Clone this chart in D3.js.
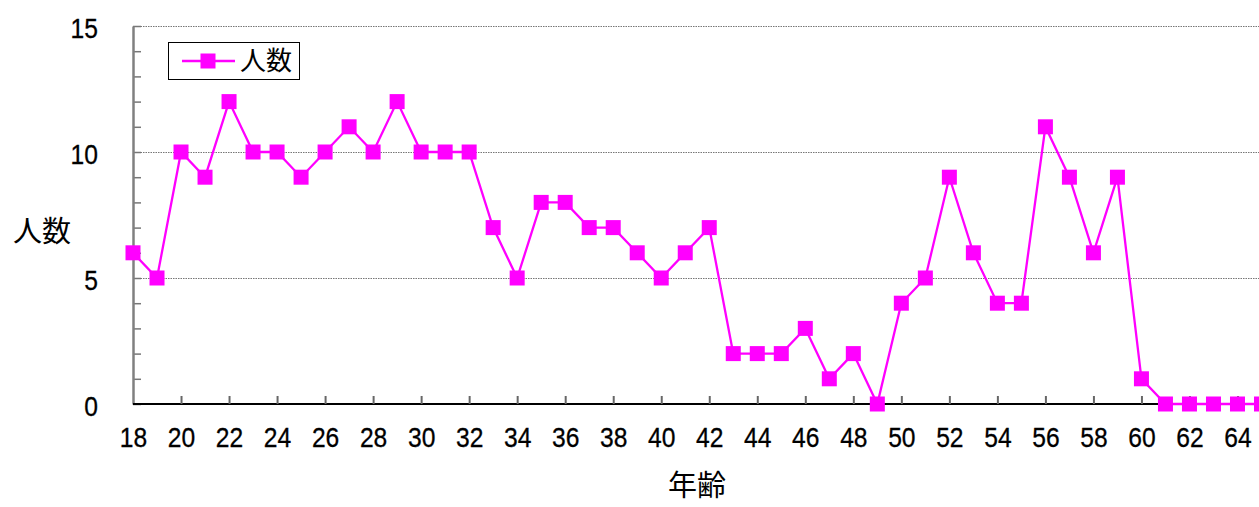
<!DOCTYPE html>
<html><head><meta charset="utf-8">
<script src="https://cdn.jsdelivr.net/npm/d3@7"></script>
<style>
html,body{margin:0;padding:0;background:#fff;overflow:hidden}
svg{display:block}
text{font-family:"Noto Sans CJK JP","Noto Sans",sans-serif;fill:#000}
</style></head>
<body>
<svg id="chart" width="1259" height="507"></svg>
<script>
const ages = [18,19,20,21,22,23,24,25,26,27,28,29,30,31,32,33,34,35,36,37,38,39,40,41,42,43,44,45,46,47,48,49,50,51,52,53,54,55,56,57,58,59,60,61,62,63,64,65];
const counts = [6,5,10,9,12,10,10,9,10,11,10,12,10,10,10,7,5,8,8,7,7,6,5,6,7,2,2,2,3,1,2,0,4,5,9,6,4,4,11,9,6,9,1,0,0,0,0,0];
const xTickValues = [18,20,22,24,26,28,30,32,34,36,38,40,42,44,46,48,50,52,54,56,58,60,62,64];
const yTickValues = [0,5,10,15];
const yMinorTicks = [0,1,2,3,4,5,6,7,8,9,10,11,12,13,14,15];
const seriesName = "人数";
const xTitle = "年齢";
const yTitle = "人数";

const svg = d3.select("#chart");
const x = d3.scaleLinear().domain([18,65]).range([133, 1261.5]);
const y = d3.scaleLinear().domain([0,15]).range([404, 26]);
const magenta = "#ff00ff";

// gridlines
svg.append("g").selectAll("line").data(yTickValues.filter(d=>d>0)).join("line")
  .attr("x1",133).attr("x2",1259)
  .attr("y1",d=>y(d)+0.5).attr("y2",d=>y(d)+0.5)
  .attr("stroke","#777").attr("stroke-width",1.2).attr("stroke-dasharray","1.5,1");

// y axis minor ticks (inward)
const yMinor = svg.append("g").attr("transform","translate(133,0)")
  .call(d3.axisRight(y).tickValues(yMinorTicks).tickSize(8).tickFormat(""));
yMinor.select(".domain").remove();
yMinor.selectAll("line").attr("stroke","#777").attr("stroke-width",1.5);

// y axis labels
const yAx = svg.append("g").attr("transform","translate(133,0)")
  .call(d3.axisLeft(y).tickValues(yTickValues).tickSize(0).tickPadding(35));
yAx.select(".domain").attr("stroke","#808080").attr("stroke-width",2.5);
yAx.selectAll("text").style("font-family","'Liberation Sans',sans-serif").style("font-size","28px")
  .style("stroke","#000").style("stroke-width","0.3px")
  .attr("dy","0.40em").attr("transform","translate(-35,0) scale(0.88,1) translate(35,0)");

// x axis
const xAx = svg.append("g").attr("transform","translate(0,404)")
  .call(d3.axisBottom(x).tickValues(xTickValues).tickSize(0).tickPadding(0));
xAx.select(".domain").attr("stroke","#000").attr("stroke-width",2).attr("d","M133,0H1259");
xAx.selectAll("text").style("font-family","'Liberation Sans',sans-serif").style("font-size","28px")
  .style("stroke","#000").style("stroke-width","0.3px")
  .attr("y",33).attr("dy","0.36em").attr("transform","scale(0.88,1)");
const xTicks = svg.append("g").attr("transform","translate(0,404)")
  .call(d3.axisTop(x).tickValues(xTickValues.filter(d=>d>18)).tickSize(8).tickFormat(""));
xTicks.select(".domain").remove();
xTicks.selectAll("line").attr("stroke","#666").attr("stroke-width",2);

// line
const line = d3.line().x((d,i)=>x(ages[i])).y(d=>y(d));
svg.append("path").datum(counts).attr("d",line)
  .attr("fill","none").attr("stroke",magenta).attr("stroke-width",2.3);

// markers
const ms = 15;
svg.append("g").selectAll("rect").data(counts).join("rect")
  .attr("x",(d,i)=>x(ages[i])-ms/2).attr("y",d=>y(d)-ms/2)
  .attr("width",ms).attr("height",ms).attr("fill",magenta);

// legend
const lg = svg.append("g");
lg.append("rect").attr("x",168.5).attr("y",42.5).attr("width",131).attr("height",37)
  .attr("fill","#fff").attr("stroke","#000").attr("stroke-width",1);
lg.append("line").attr("x1",182).attr("x2",235).attr("y1",61).attr("y2",61)
  .attr("stroke",magenta).attr("stroke-width",2.3);
lg.append("rect").attr("x",208-ms/2).attr("y",61-ms/2).attr("width",ms).attr("height",ms).attr("fill",magenta);
lg.append("text").attr("x",240).attr("y",61).attr("dy","0.36em")
  .style("font-size","26px").text(seriesName);

// axis titles
svg.append("text").attr("x",42).attr("y",232).attr("dy","0.36em").attr("text-anchor","middle")
  .style("font-size","29px").text(yTitle);
svg.append("text").attr("x",697).attr("y",486).attr("dy","0.36em").attr("text-anchor","middle")
  .style("font-size","29px").text(xTitle);
</script>
</body></html>
